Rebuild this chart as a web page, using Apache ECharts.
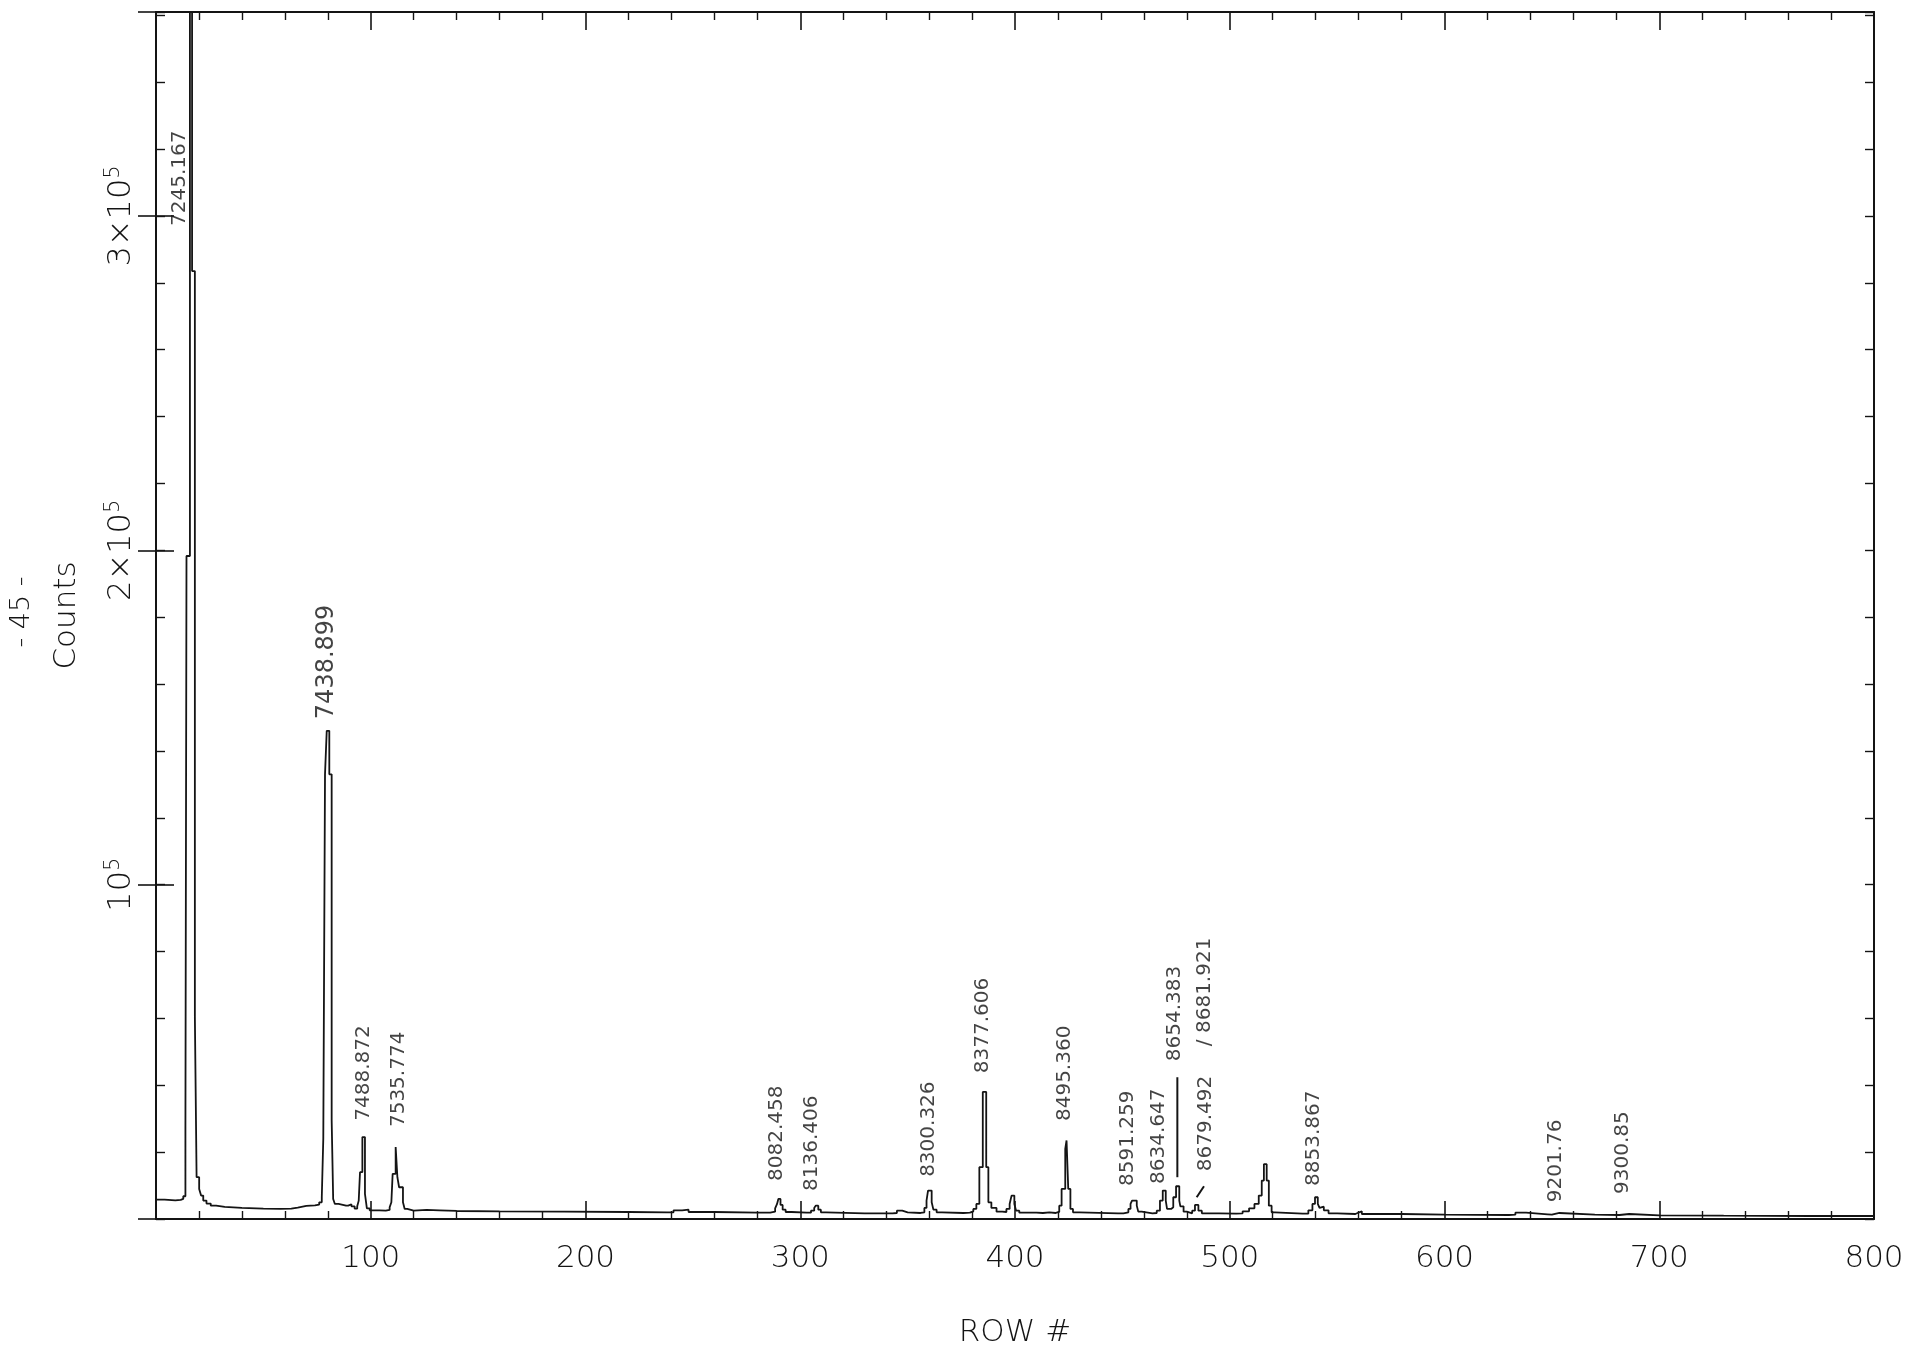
<!DOCTYPE html>
<html>
<head>
<meta charset="utf-8">
<script src="https://cdn.jsdelivr.net/npm/echarts@6/dist/echarts.min.js"></script>
<style>
  html, body { margin: 0; padding: 0; background: #ffffff; }
  #chart { width: 1914px; height: 1353px; }
</style>
</head>
<body>
<div id="chart"></div>
<script>
// Detector row where each counts level begins (drawn as a stepped trace)
const traceRows = [
  0, 4, 9, 11.5, 12.7, 13.7, 14.2, 15.8, 16.8, 18.1, 18.9, 20.1, 21, 22, 23.5, 25.5, 28, 32, 40, 50,
  58, 63, 66, 70, 74, 76, 77.2, 77.9, 78.7, 79.5, 80.7, 81.8, 82.5, 83.3, 85, 88.5, 89.5, 91, 92.5, 93.7,
  94.4, 95.0, 96.1, 97.3, 98.2, 99.5, 104, 107, 108.8, 109.6, 110.2, 111.6, 112.4, 113.2, 115.0, 115.8, 117, 120, 126, 132,
  140, 160, 190, 220, 238, 241, 245, 248, 260, 280, 286, 288.3, 289.2, 289.8, 290.8, 291.8, 293.2, 296, 303, 305,
  306.5, 307.2, 308.4, 309.6, 312, 330, 343, 345, 347.5, 350, 356, 357.8, 358.8, 359.5, 361.2, 362, 363.5, 366, 376, 379,
  380.6, 382, 383.4, 385, 386.6, 387.6, 389, 391.4, 394, 396, 397.5, 398.4, 399.7, 400.5, 402, 410, 413, 416, 419, 420.6,
  421.7, 423.4, 424, 424.8, 425.8, 427, 430, 448, 450.5, 452.8, 453.8, 454.5, 456.7, 457.4, 459, 464, 466, 467.5, 468.8, 470.2,
  470.8, 472.7, 473.7, 475, 476.5, 477, 478.5, 480, 482.5, 483.8, 485.4, 487, 495, 503, 506, 509, 511.5, 513.5, 514.9, 515.9,
  517.2, 518.2, 519.5, 521, 534, 536.6, 538.5, 539.7, 541, 541.8, 542.6, 543.8, 546, 550, 558.5, 559.5, 561.5, 580, 600, 630,
  633, 638, 648, 650, 653.5, 670, 681.5, 686, 700, 730, 770, 800
];
const traceCounts = [
  5800, 5600, 5700, 6000, 6800, 27500, 198300, 420000, 283500, 60500, 12500, 9000, 7000, 5500, 4600, 4000, 3600, 3300, 3100, 3000,
  3100, 3400, 3900, 4100, 4300, 5000, 6500, 24000, 133000, 146000, 133000, 29500, 6000, 4500, 4000, 4000, 4400, 3800, 3100, 3800,
  5500, 14000, 24500, 7500, 3200, 2600, 2500, 2700, 3500, 5000, 13500, 21500, 12500, 9500, 5000, 3000, 2500, 2700, 2600, 2400,
  2300, 2200, 2100, 2000, 2000, 2600, 2800, 2100, 1900, 1900, 2200, 3200, 4500, 6000, 4200, 2800, 2100, 1900, 1900, 2500,
  3300, 4000, 2800, 2000, 1700, 1700, 1800, 2500, 2000, 1800, 2000, 3300, 5500, 8500, 5000, 2800, 2000, 1800, 1900, 2300,
  3000, 4500, 15500, 38000, 15500, 5000, 3300, 2200, 2100, 3000, 4500, 7000, 4500, 2500, 1900, 1800, 2000, 1800, 2100, 4000,
  9000, 21000, 23500, 9000, 3000, 2000, 1700, 1700, 2000, 3000, 4500, 5500, 4000, 2200, 1700, 1800, 2500, 5500, 8500, 5500,
  3000, 3500, 6500, 9800, 5500, 3800, 2200, 1700, 2500, 4200, 2500, 1700, 1600, 1700, 2300, 3200, 4500, 7000, 11500, 16400,
  11500, 4000, 2000, 1600, 1600, 2600, 4500, 6500, 4500, 3300, 3700, 2600, 1700, 1500, 1800, 2300, 1500, 1300, 1200, 1300,
  1900, 1400, 1300, 1800, 1300, 1200, 1500, 1100, 1000, 900, 900, 900
];

// Hand-written line identifications (wavelengths in Angstrom), anchored at the start of each note
const noteRows = [11.2, 79.7, 96.6, 112.9, 289.2, 305.5, 360.0, 385.0, 423.3, 452.6, 467.0, 474.5, 488.5, 489.0, 539.3, 651.7, 683.0];
const noteCounts = [297000, 149500, 29400, 27500, 11400, 8400, 12600, 43600, 29300, 9900, 10500, 47200, 51700, 14300, 9900, 5000, 7500];
const noteTexts = ['7245.167', '7438.899', '7488.872', '7535.774', '8082.458', '8136.406', '8300.326', '8377.606', '8495.360',
  '8591.259', '8634.647', '8654.383', '/ 8681.921', '8679.492', '8853.867', '9201.76', '9300.85'];

// Pointer strokes drawn next to the blended lines near row 480
const pointerA = { rows: [475.6, 475.6], counts: [42400, 12500] };
const pointerB = { rows: [484.6, 488.0], counts: [6500, 9800] };

// Axis tick values and their labels
const xTickLabels = { 100: '100', 200: '200', 300: '300', 400: '400', 500: '500', 600: '600', 700: '700', 800: '800' };
const yTickLabels = { 100000: '{n|10}{s|5}', 200000: '{n|2\u00d710}{s|5}', 300000: '{n|3\u00d710}{s|5}' };

const X_MAX = 800;
const Y_MAX = 361000;
const INK = '#141414';
const FONT = 'DejaVu Sans';

const chart = echarts.init(document.getElementById('chart'), null, { renderer: 'canvas' });

function frameAxis(extra) {
  return Object.assign({
    type: 'value',
    axisLine: { show: true, onZero: false, lineStyle: { color: INK, width: 2 } },
    axisTick: { show: true, inside: true, length: 18, lineStyle: { color: INK, width: 1.6 } },
    minorTick: { show: false },
    splitLine: { show: false },
    minorSplitLine: { show: false },
    axisLabel: { show: false }
  }, extra);
}

const xCommon = { min: 0, max: X_MAX, interval: 100 };
const xMinor = { show: true, splitNumber: 5, length: 8, lineStyle: { color: INK, width: 1.4 } };

const option = {
  backgroundColor: '#ffffff',
  animation: false,
  grid: { left: 156, right: 40, top: 12, bottom: 133, containLabel: false },
  xAxis: [
    frameAxis(Object.assign({}, xCommon, {
      position: 'bottom',
      minorTick: xMinor,
      name: 'ROW #',
      nameLocation: 'middle',
      nameGap: 98,
      nameTextStyle: { fontFamily: FONT, fontSize: 31, color: INK, fontWeight: 300 },
      axisLabel: {
        show: true, margin: 24, color: INK, fontFamily: FONT, fontSize: 31, fontWeight: 300,
        formatter: v => xTickLabels[v] || ''
      }
    })),
    frameAxis(Object.assign({}, xCommon, { position: 'top', minorTick: xMinor }))
  ],
  yAxis: [
    // fine ticks every 2x10^4
    frameAxis({ min: 0, max: Y_MAX, interval: 20000, position: 'left', axisTick: { show: true, inside: true, length: 9, lineStyle: { color: INK, width: 1.4 } } }),
    // major ticks, labels and title
    frameAxis({
      min: 0, max: Y_MAX, interval: 100000, position: 'left',
      axisLine: { show: false },
      name: 'Counts',
      nameLocation: 'middle',
      nameGap: 74,
      nameTextStyle: { fontFamily: FONT, fontSize: 31, color: INK, fontWeight: 300 },
      axisLabel: {
        show: true, rotate: 90, margin: 16, color: INK, fontFamily: FONT, fontWeight: 300,
        formatter: v => yTickLabels[v] || '',
        rich: {
          n: { fontSize: 32, fontFamily: FONT, color: INK, fontWeight: 300 },
          s: { fontSize: 21, fontFamily: FONT, color: INK, fontWeight: 300, padding: [0, 0, 16, 0] }
        }
      }
    }),
    frameAxis({ min: 0, max: Y_MAX, interval: 20000, position: 'right', axisTick: { show: true, inside: true, length: 9, lineStyle: { color: INK, width: 1.4 } } }),
    frameAxis({ min: 0, max: Y_MAX, interval: 100000, position: 'right', axisLine: { show: false } })
  ],
  graphic: [
    {
      type: 'text', x: 22, y: 612, rotation: Math.PI / 2,
      style: { text: '- 45 -', font: '300 27px "DejaVu Sans"', fill: INK, align: 'center', verticalAlign: 'middle' }
    }
  ],
  series: [
    {
      name: 'spectrum',
      type: 'line',
      step: 'end',
      xAxisIndex: 0, yAxisIndex: 0,
      symbol: 'none',
      clip: true,
      lineStyle: { color: INK, width: 1.8 },
      data: traceRows.map((r, i) => [r, traceCounts[i]]),
      z: 3
    },
    {
      name: 'notes',
      type: 'scatter',
      xAxisIndex: 0, yAxisIndex: 0,
      symbolSize: 1,
      itemStyle: { color: 'rgba(0,0,0,0)' },
      data: noteRows.map((r, i) => [r, noteCounts[i], noteTexts[i]]),
      label: {
        show: true,
        position: 'inside',
        rotate: 90,
        align: 'left',
        verticalAlign: 'middle',
        color: INK,
        fontFamily: FONT,
        fontSize: 20,
        formatter: p => (p.data[2] === '7438.899' ? '{big|' + p.data[2] + '}' : p.data[2]),
        rich: { big: { fontSize: 24, fontFamily: FONT, color: INK } }
      },
      z: 4
    },
    {
      name: 'pointerA', type: 'line', xAxisIndex: 0, yAxisIndex: 0, symbol: 'none',
      lineStyle: { color: INK, width: 2 },
      data: pointerA.rows.map((r, i) => [r, pointerA.counts[i]])
    },
    {
      name: 'pointerB', type: 'line', xAxisIndex: 0, yAxisIndex: 0, symbol: 'none',
      lineStyle: { color: INK, width: 2 },
      data: pointerB.rows.map((r, i) => [r, pointerB.counts[i]])
    }
  ]
};

chart.setOption(option);
</script>
</body>
</html>
